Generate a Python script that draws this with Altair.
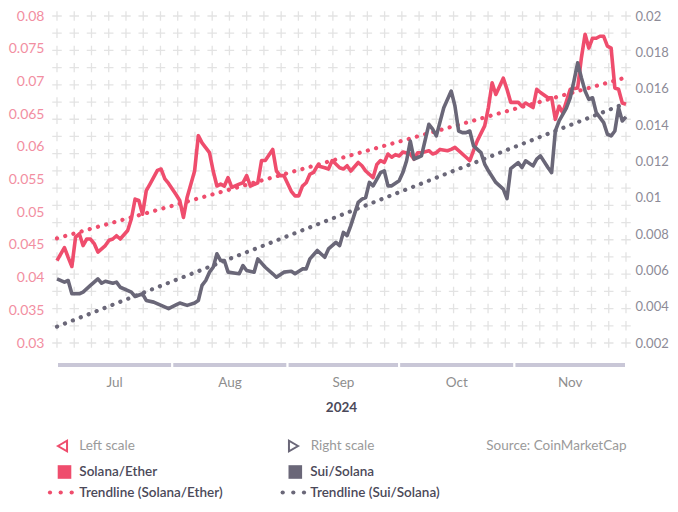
import altair as alt
import pandas as pd
import numpy as np

# x positions: days since 2024-07-01 (domain Jul 1 .. Dec 1)
red_day = [0, 2, 3, 4, 5, 6, 7, 8, 9, 10, 11, 12, 13, 14, 15, 16, 17, 19, 20, 21,
           22, 23, 24, 25, 27, 28, 29, 30, 32, 33, 34, 35, 37, 38, 39, 41, 42, 43, 44, 45,
           46, 47, 49, 50, 51, 52, 54, 55, 56, 58, 59, 60, 61, 63, 64, 65, 66, 67, 68, 69,
           70, 72, 73, 74, 76, 77, 78, 79, 81, 82, 83, 85, 86, 87, 88, 89, 90, 91, 92, 93,
           95, 96, 97, 98, 100, 101, 102, 103, 105, 106, 107, 108, 110, 111, 112, 113, 115, 116, 117, 118,
           120, 121, 122, 124, 125, 126, 128, 129, 130, 132, 133, 134, 135, 136, 137, 138, 140, 141, 142, 143,
           144, 145, 146, 147, 148, 149, 150, 151, 152, 153]
red_val = [0.0426, 0.0446, 0.0431, 0.0417, 0.0462, 0.0467, 0.0449, 0.0459, 0.0459, 0.0452, 0.0439, 0.0444, 0.0449, 0.0457, 0.0459, 0.0464, 0.0459, 0.0472, 0.0490, 0.0520,
           0.0518, 0.0497, 0.0533, 0.0543, 0.0564, 0.0566, 0.0551, 0.0544, 0.0527, 0.0518, 0.0492, 0.0523, 0.0563, 0.0617, 0.0606, 0.0591, 0.0563, 0.0540, 0.0543, 0.0540,
           0.0553, 0.0538, 0.0543, 0.0545, 0.0556, 0.0540, 0.0545, 0.0579, 0.0579, 0.0596, 0.0563, 0.0556, 0.0556, 0.0532, 0.0525, 0.0525, 0.0540, 0.0545, 0.0558, 0.0561,
           0.0571, 0.0568, 0.0566, 0.0579, 0.0568, 0.0566, 0.0571, 0.0563, 0.0576, 0.0571, 0.0563, 0.0553, 0.0573, 0.0579, 0.0576, 0.0589, 0.0584, 0.0588, 0.0586, 0.0592,
           0.0589, 0.0581, 0.0591, 0.0591, 0.0594, 0.0589, 0.0591, 0.0596, 0.0594, 0.0596, 0.0599, 0.0594, 0.0584, 0.0579, 0.0594, 0.0609, 0.0632, 0.0660, 0.0698, 0.0680,
           0.0705, 0.0688, 0.0668, 0.0668, 0.0662, 0.0667, 0.0660, 0.0688, 0.0683, 0.0675, 0.0675, 0.0642, 0.0662, 0.0652, 0.0670, 0.0688, 0.0690, 0.0736, 0.0772, 0.0751,
           0.0766, 0.0766, 0.0769, 0.0769, 0.0754, 0.0751, 0.0690, 0.0688, 0.0667, 0.0665]

gray_day = [0, 2, 3, 4, 6, 7, 9, 11, 12, 13, 15, 16, 17, 20, 21, 23, 24, 26, 28, 30,
            32, 33, 35, 37, 38, 39, 40, 41, 42, 43, 44, 45, 46, 48, 49, 50, 51, 53, 54, 56,
            58, 59, 61, 63, 64, 66, 67, 68, 70, 72, 73, 75, 76, 77, 78, 79, 81, 82, 83, 84,
            85, 87, 88, 89, 90, 92, 93, 94, 95, 96, 97, 98, 100, 101, 102, 104, 106, 107, 108, 109,
            110, 111, 112, 114, 115, 116, 118, 120, 121, 122, 124, 125, 126, 128, 129, 130, 132, 133, 134, 135,
            136, 137, 138, 139, 140, 141, 142, 143, 144, 145, 147, 148, 149, 150, 151, 152, 153]
gray_val = [0.00553, 0.00535, 0.00544, 0.00471, 0.00471, 0.00480, 0.00517, 0.00553, 0.00529, 0.00540, 0.00529, 0.00535, 0.00507, 0.00480, 0.00456, 0.00471, 0.00434, 0.00425, 0.00407, 0.00389,
            0.00410, 0.00420, 0.00407, 0.00420, 0.00434, 0.00517, 0.00544, 0.00590, 0.00617, 0.00691, 0.00654, 0.00654, 0.00590, 0.00584, 0.00581, 0.00626, 0.00599, 0.00590, 0.00663, 0.00617,
            0.00581, 0.00562, 0.00590, 0.00595, 0.00581, 0.00608, 0.00608, 0.00663, 0.00709, 0.00672, 0.00718, 0.00754, 0.00736, 0.00809, 0.00791, 0.00846, 0.00974, 0.00992, 0.01001, 0.01084,
            0.01065, 0.01138, 0.01148, 0.01065, 0.01065, 0.01093, 0.01138, 0.01203, 0.01312, 0.01212, 0.01221, 0.01230, 0.01404, 0.01377, 0.01340, 0.01495, 0.01587, 0.01505, 0.01367, 0.01358,
            0.01358, 0.01367, 0.01285, 0.01248, 0.01185, 0.01148, 0.01084, 0.01047, 0.00995, 0.01160, 0.01193, 0.01166, 0.01203, 0.01175, 0.01212, 0.01230, 0.01166, 0.01138, 0.01367, 0.01422,
            0.01459, 0.01495, 0.01550, 0.01642, 0.01742, 0.01660, 0.01587, 0.01541, 0.01550, 0.01468, 0.01413, 0.01349, 0.01340, 0.01367, 0.01495, 0.01422, 0.01445]

trend_day = [0, 153]
red_trend = [0.0460, 0.0706]
gray_trend = [0.0029, 0.0152]

months = ["Jul", "Aug", "Sep", "Oct", "Nov"]
month_start = [0, 31, 62, 92, 123]
month_end = [31, 62, 92, 123, 153]
year_label = ["2024"]

left_ticks = [0.03, 0.035, 0.04, 0.045, 0.05, 0.055, 0.06, 0.065, 0.07, 0.075, 0.08]
right_ticks = [0.002, 0.004, 0.006, 0.008, 0.01, 0.012, 0.014, 0.016, 0.018, 0.02]

assert len(red_day) == len(red_val)
assert len(gray_day) == len(gray_val)

W, H = 569, 327
RED = "#ef4d6d"
GRAY = "#6a6778"
FONT = "Lato"

xs = alt.Scale(domain=[0, 153], nice=False, zero=False)
ly = alt.Scale(domain=[0.03, 0.08], nice=False, zero=False)
ry = alt.Scale(domain=[0.002, 0.02], nice=False, zero=False)

left_axis = alt.Axis(orient="left", values=left_ticks, format=".3~f", labelColor="#f28ea1",
                     labelFont=FONT, labelFontSize=14, labelPadding=13, domain=False,
                     ticks=False, grid=False, title=None)
right_axis = alt.Axis(orient="right", values=right_ticks, format=".3~f", labelColor="#8d8b97",
                      labelFont=FONT, labelFontSize=13, labelPadding=9, domain=False,
                      ticks=False, grid=False, title=None)

red_df = pd.DataFrame({"d": red_day, "v": red_val})
gray_df = pd.DataFrame({"d": gray_day, "v": gray_val})
rt_df = pd.DataFrame({"d": trend_day, "v": red_trend})
gt_df = pd.DataFrame({"d": trend_day, "v": gray_trend})
month_df = pd.DataFrame({"m": months, "s": month_start, "e": month_end})
month_df["mid"] = (month_df["s"] + month_df["e"]) / 2

# decorative cross pattern (34 x 20)
gx, gy = np.meshgrid(np.linspace(0, 153, 34), np.linspace(0.03, 0.08, 20))
grid_df = pd.DataFrame({"d": gx.ravel(), "v": gy.ravel()})

X = lambda: alt.X("d:Q", scale=xs, axis=None)

grid = alt.Chart(grid_df).mark_point(
    shape="M-1,0H1M0,-1V1", size=90, filled=False, stroke="#e3e3e3", strokeWidth=1.3, opacity=1
).encode(x=X(), y=alt.Y("v:Q", scale=ly, axis=left_axis))

red_line = alt.Chart(red_df).mark_line(color=RED, strokeWidth=3.6, strokeJoin="round").encode(
    x=X(), y=alt.Y("v:Q", scale=ly, axis=left_axis))
red_tr = alt.Chart(rt_df).mark_line(color=RED, strokeWidth=4.2, strokeDash=[0.1, 8.4], strokeCap="round").encode(
    x=X(), y=alt.Y("v:Q", scale=ly, axis=left_axis))

gray_line = alt.Chart(gray_df).mark_line(color=GRAY, strokeWidth=3.6, strokeJoin="round").encode(
    x=X(), y=alt.Y("v:Q", scale=ry, axis=right_axis))
gray_tr = alt.Chart(gt_df).mark_line(color=GRAY, strokeWidth=4.2, strokeDash=[0.1, 8.4], strokeCap="round").encode(
    x=X(), y=alt.Y("v:Q", scale=ry, axis=right_axis))

bands = alt.Chart(month_df).mark_rect(color="#c9c7d7", stroke="white", strokeWidth=2).encode(
    x=alt.X("s:Q", scale=xs, axis=None), x2="e:Q", y=alt.value(346), y2=alt.value(352))
month_txt = alt.Chart(month_df).mark_text(font=FONT, fontSize=13.5, color="#8e8e8e", align="center",
                                          baseline="middle").encode(
    x=alt.X("mid:Q", scale=xs, axis=None), y=alt.value(367), text="m:N")
year_txt = alt.Chart(pd.DataFrame({"t": year_label})).mark_text(
    font=FONT, fontSize=13.5, fontWeight="bold", color="#4b4959", align="center", baseline="middle"
).encode(x=alt.value(W / 2), y=alt.value(392), text="t:N")


def txt(s, x, y, color, weight="normal", align="left"):
    return alt.Chart(pd.DataFrame({"t": [s]})).mark_text(
        font=FONT, fontSize=13.5, fontWeight=weight, color=color, align=align, baseline="middle"
    ).encode(x=alt.value(x), y=alt.value(y), text="t:N")


def sym(x, y, **kw):
    return alt.Chart(pd.DataFrame({"t": [0]})).mark_point(opacity=1, **kw).encode(
        x=alt.value(x), y=alt.value(y))


R1, R2, R3 = 430, 456, 476.5
LIGHT = "#9a9a9a"
DARK = "#4b4959"
legend = [
    sym(5.5, R1, shape="triangle-left", filled=False, stroke=RED, strokeWidth=2, size=110),
    txt("Left scale", 22.3, R1, LIGHT),
    sym(236.5, R1, shape="triangle-right", filled=False, stroke=GRAY, strokeWidth=2, size=110),
    txt("Right scale", 253.7, R1, LIGHT),
    txt("Source: CoinMarketCap", 569.5, R1, LIGHT, align="right"),
    sym(7.5, R2, shape="square", filled=True, fill=RED, strokeWidth=0, size=185),
    txt("Solana/Ether", 22.3, R2, DARK, weight=600),
    sym(238.3, R2, shape="square", filled=True, fill=GRAY, strokeWidth=0, size=185),
    txt("Sui/Solana", 253.3, R2, DARK, weight=600),
    txt("Trendline (Solana/Ether)", 22.3, R3, DARK, weight=600),
    txt("Trendline (Sui/Solana)", 253.3, R3, DARK, weight=600),
]
for xx in (-7, 3.7, 14.7):
    legend.append(sym(xx, R3, shape="circle", filled=True, fill=RED, strokeWidth=0, size=18))
for xx in (225.7, 236.3, 247):
    legend.append(sym(xx, R3, shape="circle", filled=True, fill=GRAY, strokeWidth=0, size=18))

left_group = alt.layer(grid, red_line, red_tr, bands, month_txt, year_txt, *legend)
right_group = alt.layer(gray_line, gray_tr)

chart = alt.layer(left_group, right_group).resolve_scale(y="independent").properties(
    width=W, height=H,
    autosize=alt.AutoSizeParams(type="none"),
    padding={"left": 49, "top": 8, "right": 44, "bottom": 156},
    background="white",
).configure_view(stroke=None)

chart.save("out.html", embed_options={"renderer": "svg", "actions": False})
